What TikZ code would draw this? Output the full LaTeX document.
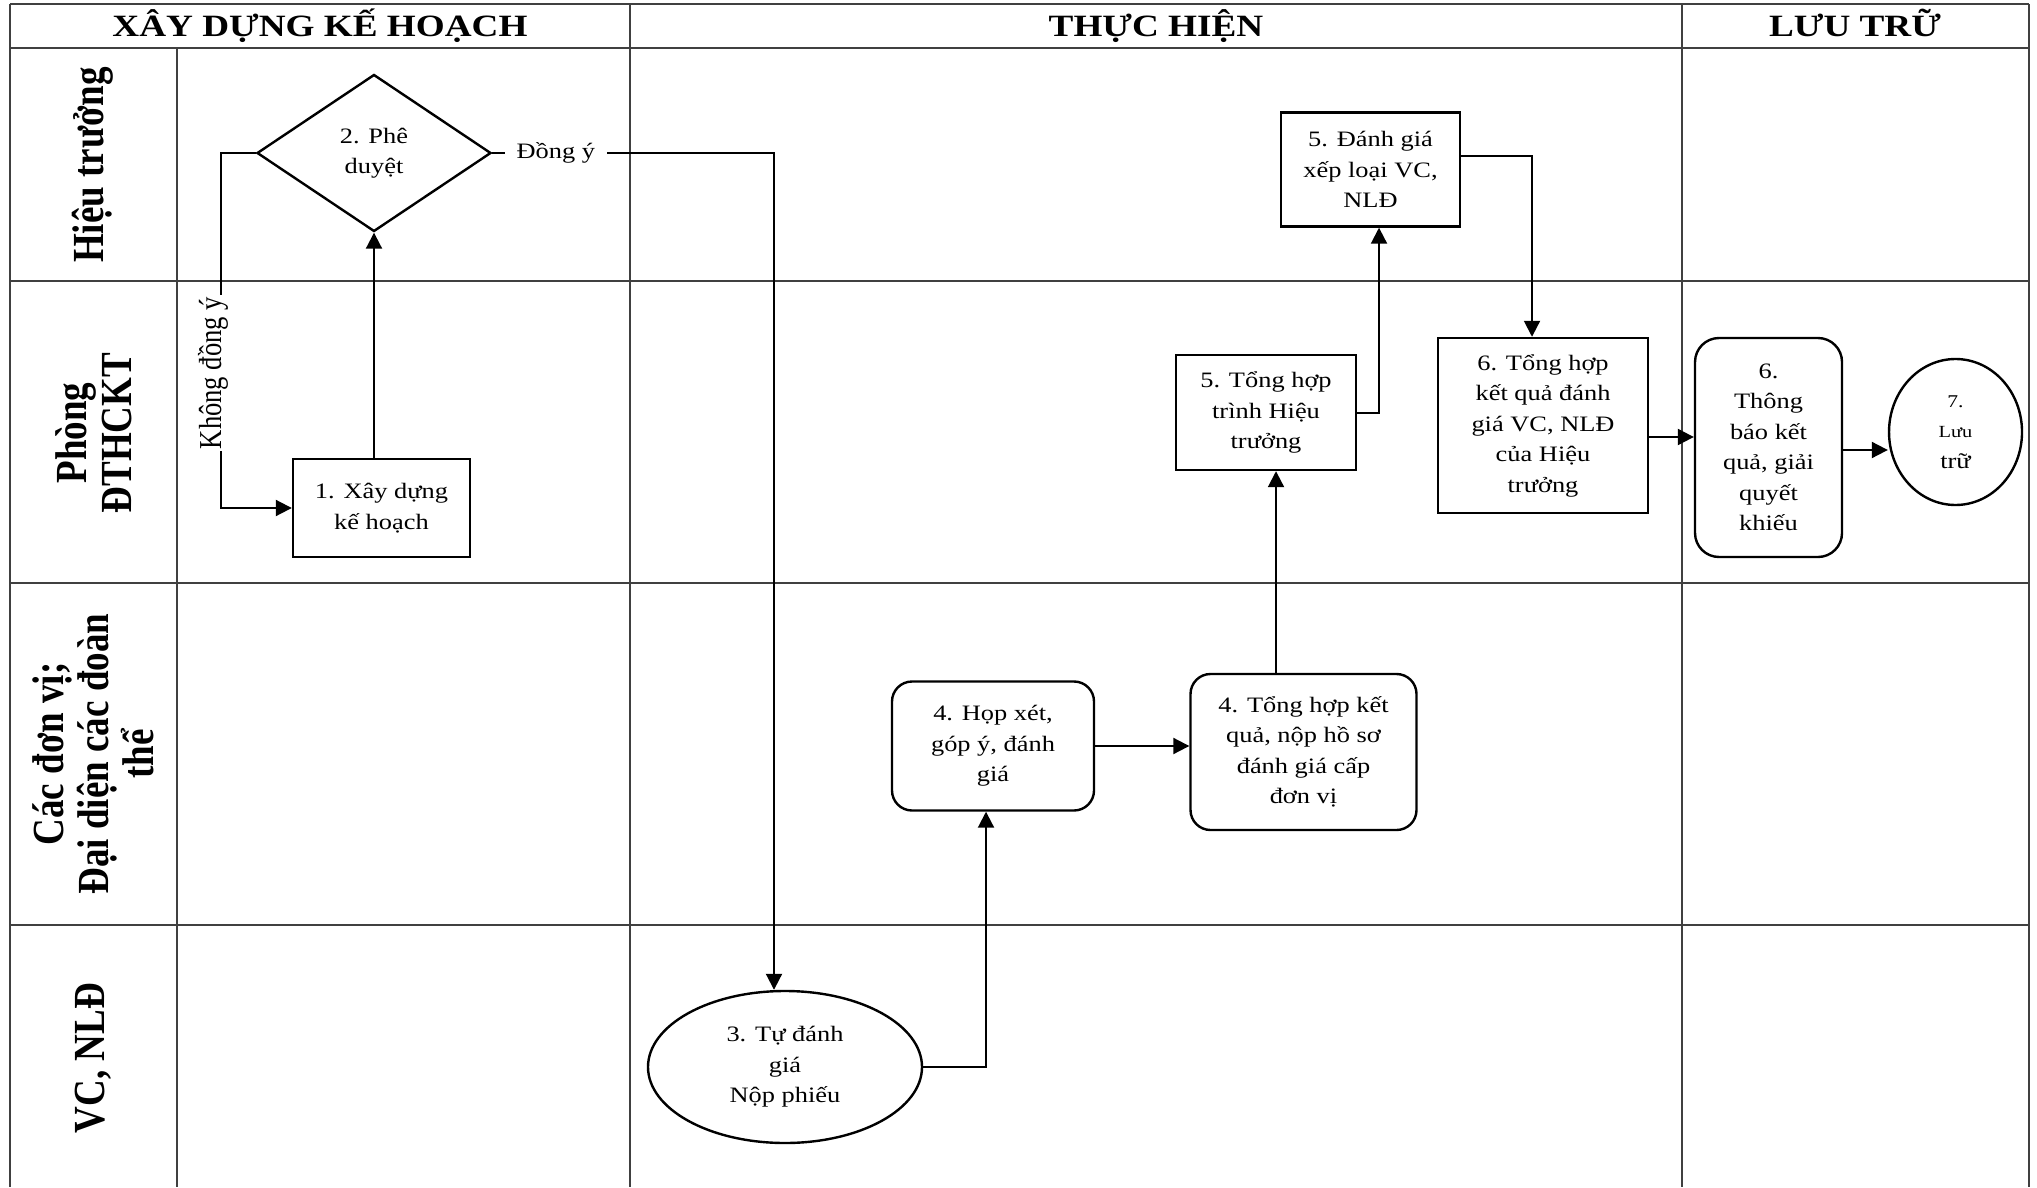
\documentclass[tikz,border=0pt]{standalone}
\usepackage{fontspec}
\setmainfont{Liberation Serif}[FakeStretch=1.2]
\newfontfamily\lanefont{Liberation Serif}
\usetikzlibrary{shapes.geometric,arrows.meta}

\tikzset{
  grid/.style={line width=1pt, draw=black!75},
  nbox/.style={draw, line width=1.2pt, align=center, inner sep=0pt, font=\fontsize{11}{15.25}\selectfont},
  rbox/.style={nbox, rounded corners=10pt},
  conn/.style={line width=1pt},
  arr/.style={conn, -{Triangle[length=8pt,width=8pt]}},
  lanelbl/.style={rotate=90, yscale=1.2, align=center, font=\lanefont\bfseries\fontsize{18.5}{18.75}\selectfont},
  hdr/.style={anchor=base, font=\bfseries\fontsize{15.5}{18}\selectfont},
  lbl/.style={fill=white, font=\fontsize{11}{13}\selectfont},
  vlbl/.style={anchor=base, rotate=90, yscale=1.2, fill=white, inner xsep=1pt, inner ysep=1pt, font=\lanefont\fontsize{13.3}{15}\selectfont},
}

\begin{document}
\begin{tikzpicture}[x=0.5pt,y=-0.5pt]
\useasboundingbox (0,0) rectangle (2037,1187);

% ---------- grid ----------
\draw[grid] (10,4) -- (2029,4);
\draw[grid] (10,48) -- (2029,48);
\draw[grid] (10,281) -- (2029,281);
\draw[grid] (10,583) -- (2029,583);
\draw[grid] (10,925) -- (2029,925);
\draw[grid] (10,4) -- (10,1187);
\draw[grid] (2029,4) -- (2029,1187);
\draw[grid] (630,4) -- (630,1187);
\draw[grid] (1682,4) -- (1682,1187);
\draw[grid] (177,48) -- (177,1187);

% ---------- headers ----------
\node[hdr] (h1) at (320,37) {XÂY DỰNG KẾ HOẠCH};
\node[hdr] (h2) at (1156,37) {THỰC HIỆN};
\node[hdr] (h3) at (1855,37) {LƯU TRỮ};

% ---------- lane labels ----------
\node[lanelbl] (l1) at (93,165) {Hiệu trưởng};
\node[lanelbl] (l2) at (94,433) {Phòng\\ĐTHCKT};
\node[lanelbl] (l3) at (93,754) {Các đơn vị;\\Đại diện các đoàn\\thể};
\node[lanelbl] (l4) at (93,1058) {VC, NLĐ};

% ---------- nodes ----------
\node[nbox, shape=diamond, minimum width=117pt, minimum height=78.5pt] (d2) at (374,153) {2. Phê\\duyệt};
\node[nbox, minimum width=88.5pt, minimum height=49pt] (n1) at (381.5,508) {1. Xây dựng\\kế hoạch};
\node[nbox, shape=ellipse, minimum width=137pt, minimum height=76pt] (e3) at (785,1067) {3. Tự đánh\\giá\\Nộp phiếu};
\node[rbox, minimum width=101pt, minimum height=64.5pt] (b4a) at (993,746) {4. Họp xét,\\góp ý, đánh\\giá};
\node[rbox, minimum width=113pt, minimum height=78pt] (b4b) at (1303.5,752) {4. Tổng hợp kết\\quả, nộp hồ sơ\\đánh giá cấp\\đơn vị};
\node[nbox, minimum width=90pt, minimum height=57.5pt] (b5a) at (1266,412.5) {5. Tổng hợp\\trình Hiệu\\trưởng};
\node[nbox, minimum width=89.5pt, minimum height=57pt] (b5b) at (1370.5,169.5) {5. Đánh giá\\xếp loại VC,\\NLĐ};
\node[nbox, minimum width=105pt, minimum height=87.5pt] (b6a) at (1543,425.5) {6. Tổng hợp\\kết quả đánh\\giá VC, NLĐ\\của Hiệu\\trưởng};
\node[rbox, rounded corners=12pt, minimum width=73.5pt, minimum height=109.5pt] (b6b) at (1768.5,447.5) {6.\\Thông\\báo kết\\quả, giải\\quyết\\khiếu};
\node[nbox, shape=ellipse, minimum width=66.5pt, minimum height=73pt] (c7) at (1955.5,432) {{\fontsize{9}{11}\selectfont 7.}\\{\fontsize{8.5}{12}\selectfont Lưu}\\{\fontsize{11}{14}\selectfont trữ}};

% ---------- connectors ----------
\draw[arr] (n1.north -| d2.south) -- (d2.south);

\coordinate (k1) at (221,0);
\draw[arr] (d2.west) -- (k1 |- d2.west) -- node[vlbl, pos=0.62] (knd) {Không đồng ý} (k1 |- n1.west) -- (n1.west);

\coordinate (c1) at (774,0);
\draw[arr] (d2.east) -- node[lbl, pos=0.226, inner xsep=6pt] (dy) {Đồng ý} (c1 |- d2.east) -- (c1 |- e3.north);

\coordinate (c2) at (986,0);
\draw[arr] (e3.east) -- (c2 |- e3.east) -- (c2 |- b4a.south);

\draw[arr] (b4a.east) -- (b4a.east -| b4b.west);

\coordinate (c3) at (1276,0);
\draw[arr] (c3 |- b4b.north) -- (c3 |- b5a.south);

\coordinate (c4) at (1379,0);
\draw[arr] (b5a.east) -- (c4 |- b5a.east) -- (c4 |- b5b.south);

\coordinate (c5) at (1532,156);
\draw[arr] (b5b.east |- c5) -- (c5) -- (c5 |- b6a.north);

\coordinate (c6) at (0,437);
\draw[arr] (b6a.east |- c6) -- (b6b.west |- c6);

\coordinate (c8) at (0,450);
\draw[arr] (b6b.east |- c8) -- (c7.west |- c8);
\end{tikzpicture}
\end{document}
